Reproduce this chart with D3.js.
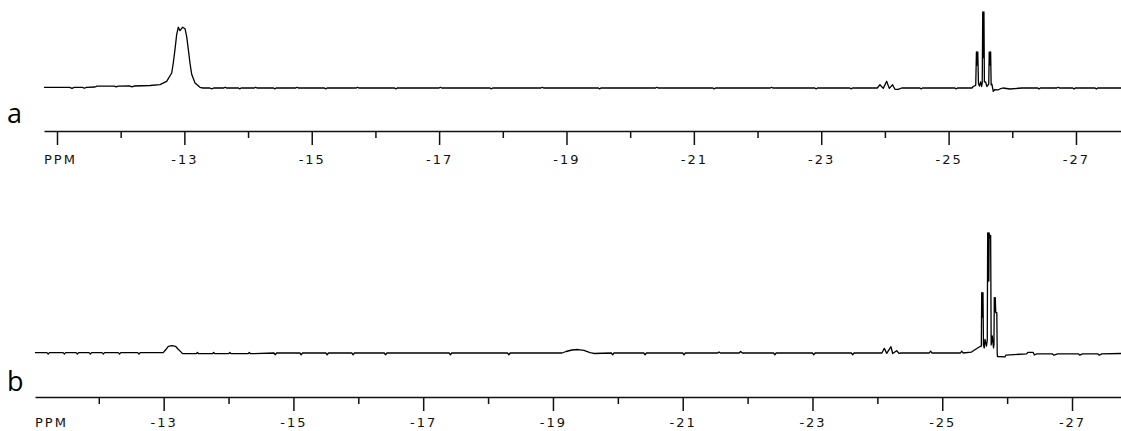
<!DOCTYPE html>
<html>
<head>
<meta charset="utf-8">
<script src="https://cdn.jsdelivr.net/npm/d3@7"></script>
<style>
  body { margin: 0; background: #fff; }
  .spectrum { fill: none; stroke: #000; stroke-width: 1.3; stroke-linejoin: round; }
  .axis text { font-family: 'DejaVu Sans', sans-serif; font-size: 13px; fill: #111; letter-spacing: 2px; }
  .panel-letter { font-family: 'Open Sans', sans-serif; font-size: 27px; fill: #000; }
</style>
</head>
<body>
<div id="chart"></div>
<script>
// spectrum a: [ppm, relative intensity]
const spectrumA = [
  [-10.796, 0.7], [-11.20, 0.9], [-11.235, -0.5], [-11.27, 0.9],
  [-11.40, 0.9], [-11.43, -0.3], [-11.46, 0.9], [-11.597, 1.3], [-11.628, 2.4],
  [-11.90, 2.4], [-11.93, 1.4], [-11.96, 2.4], [-12.146, 2.6], [-12.178, 1.6], [-12.209, 2.6],
  [-12.46, 3.3], [-12.617, 4.5], [-12.722, 8.8], [-12.801, 19.7], [-12.826, 32.9],
  [-12.853, 50.9], [-12.879, 70.3], [-12.905, 80], [-12.931, 75.5], [-12.974, 80],
  [-13.010, 78], [-13.036, 68], [-13.062, 50.9], [-13.088, 32.9], [-13.115, 18],
  [-13.167, 6.6], [-13.245, 0.9], [-13.292, 0],
  [-13.40, 0], [-13.43, -1.2], [-13.46, 0], [-13.62, 0], [-13.64, 1.0], [-13.66, 0],
  [-13.85, 0], [-13.87, -1.2], [-13.89, 0], [-14.10, 0], [-14.12, 1.0], [-14.14, 0],
  [-14.40, 0], [-14.42, -1.2], [-14.44, 0], [-14.75, 0], [-14.77, 1.0], [-14.79, 0],
  [-15.20, 0], [-15.22, -1.2], [-15.24, 0], [-15.70, 0], [-15.72, 1.0], [-15.74, 0],
  [-16.30, 0], [-16.32, -1.2], [-16.34, 0], [-17.00, 0], [-17.02, 1.0], [-17.04, 0],
  [-17.80, 0], [-17.82, -1.2], [-17.84, 0], [-18.60, 0], [-18.62, 1.0], [-18.64, 0],
  [-19.50, 0], [-19.52, -1.2], [-19.54, 0], [-20.40, 0], [-20.42, 1.0], [-20.44, 0],
  [-21.30, 0], [-21.32, -1.2], [-21.34, 0], [-22.20, 0], [-22.22, 1.0], [-22.24, 0],
  [-22.90, 0], [-22.92, -1.2], [-22.94, 0], [-23.45, 0], [-23.47, -1.2], [-23.49, 0],
  [-23.88, 0], [-23.922, 4.3], [-23.974, -0.5], [-24.027, 8.8], [-24.068, -0.5],
  [-24.121, 4.3], [-24.157, -1.7], [-24.209, -1.7], [-24.263, 0],
  [-24.55, 0], [-24.57, -1.2], [-24.59, 0], [-25.10, 0], [-25.12, -1.2], [-25.14, 0],
  [-25.366, 0], [-25.387, 2], [-25.426, 3.5], [-25.437, 47.4], [-25.447, 30],
  [-25.458, 47.4], [-25.469, 6], [-25.484, 2.6], [-25.503, 7.9], [-25.517, 2],
  [-25.528, 6], [-25.536, 100], [-25.545, 40], [-25.555, 100], [-25.562, 8],
  [-25.581, 7.9], [-25.602, 2], [-25.630, 5], [-25.638, 47.4], [-25.649, 30],
  [-25.660, 47.4], [-25.668, 4], [-25.680, 5],
  [-25.701, -4.3], [-25.727, -2], [-25.774, -2.6], [-25.806, -1.3], [-25.853, 0],
  [-25.963, -1.3], [-26.15, 0], [-26.40, 0], [-26.42, -1.3], [-26.44, 0],
  [-26.70, 0], [-26.72, 1.0], [-26.74, 0], [-26.95, 0], [-26.97, -1.3], [-26.99, 0],
  [-27.30, 0], [-27.32, -1.3], [-27.34, 0], [-27.707, 0]
];

// spectrum b: [ppm, relative intensity]
const spectrumB = [
  [-11.017, 0.3], [-11.20, 0.3], [-11.22, -0.8], [-11.24, 0.3],
  [-11.45, 0.3], [-11.47, -0.8], [-11.49, 0.3], [-11.65, 0.3], [-11.67, -0.8], [-11.69, 0.3],
  [-11.85, 0.3], [-11.87, -0.8], [-11.89, 0.3], [-12.05, 0.3], [-12.07, -0.8], [-12.09, 0.3],
  [-12.30, 0.3], [-12.32, -0.8], [-12.34, 0.3], [-12.60, 0.3], [-12.62, -0.8], [-12.64, 0.3],
  [-12.994, 0.3], [-13.035, 2.9], [-13.071, 5.6], [-13.128, 6.1], [-13.182, 5.6],
  [-13.220, 3.3], [-13.277, 0.3], [-13.297, -0.6],
  [-13.50, -0.6], [-13.52, 0.4], [-13.54, -0.6], [-13.75, -0.6], [-13.77, 0.4], [-13.79, -0.6],
  [-14.00, -0.6], [-14.02, 0.4], [-14.04, -0.6], [-14.30, -0.6], [-14.32, 0.4], [-14.34, -0.6],
  [-14.70, 0], [-14.72, -1.5], [-14.74, 0], [-15.10, 0], [-15.12, -1.5], [-15.14, 0],
  [-15.50, 0], [-15.52, -1.5], [-15.54, 0], [-15.90, 0], [-15.92, -1.5], [-15.94, 0],
  [-16.40, 0], [-16.42, -1.5], [-16.44, 0], [-17.40, 0], [-17.42, -1.5], [-17.44, 0],
  [-18.30, 0], [-18.32, -1.5], [-18.34, 0],
  [-19.139, 0], [-19.201, 1.25], [-19.293, 2.5], [-19.386, 2.9], [-19.478, 2.1],
  [-19.571, 0.4], [-19.633, -0.4],
  [-19.90, 0], [-19.92, -1.5], [-19.94, 0], [-20.40, 0], [-20.42, -1.5], [-20.44, 0],
  [-21.00, 0], [-21.02, -1.5], [-21.04, 0], [-21.54, 0], [-21.559, 0.8], [-21.58, 0],
  [-21.87, 0], [-21.893, 1.3], [-21.92, 0], [-22.40, 0], [-22.42, -1.5], [-22.44, 0],
  [-23.00, 0], [-23.02, -1.5], [-23.04, 0], [-23.60, 0], [-23.62, -1.5], [-23.64, 0],
  [-24.07, 0], [-24.107, 3.9], [-24.144, -0.3], [-24.210, 5.25], [-24.236, -0.4],
  [-24.298, 1.9], [-24.333, -0.3], [-24.36, 0],
  [-24.80, 0], [-24.82, 1.6], [-24.84, 0], [-25.28, 0], [-25.30, 1.6], [-25.32, 0],
  [-25.45, 0.8], [-25.551, 4.4], [-25.582, 5.4], [-25.602, 5.8], [-25.608, 50.3],
  [-25.618, 30], [-25.628, 50.3], [-25.635, 6.7], [-25.648, 4.2], [-25.659, 11.4],
  [-25.682, 5.8], [-25.694, 10.8], [-25.700, 100], [-25.706, 60], [-25.712, 100],
  [-25.718, 60], [-25.723, 100], [-25.735, 96], [-25.746, 98], [-25.754, 6.7],
  [-25.771, 14.2], [-25.790, 4.2], [-25.797, 6.7], [-25.802, 46.1], [-25.810, 35],
  [-25.817, 46.1], [-25.825, 33.6], [-25.841, 33.6], [-25.847, 0], [-25.851, -2.9],
  [-25.967, -3.3], [-25.982, -1.7], [-26.30, -0.8], [-26.32, 0.6], [-26.40, 0.6],
  [-26.42, -1.6], [-26.45, -0.8], [-26.70, -0.8], [-26.72, -1.8], [-26.78, -0.8],
  [-27.10, -0.8], [-27.12, -1.8], [-27.16, -0.8], [-27.40, -0.8], [-27.42, -1.8],
  [-27.46, -0.8], [-27.755, -0.4]
];

const majorTicks = [-11, -13, -15, -17, -19, -21, -23, -25, -27];
const minorTicks = [-12, -14, -16, -18, -20, -22, -24, -26];
const unitLabel = 'PPM';

const width = 1121, height = 431;

const panels = [
  { letter: 'a', data: spectrumA, domain: [-10.796, -27.707], left: 44,
    baseY: 88, topY: 12, axisY: 131, labelY: 24, letterX: 7, letterY: 123 },
  { letter: 'b', data: spectrumB, domain: [-11.017, -27.755], left: 35,
    baseY: 353, topY: 233, axisY: 397, labelY: 21, letterX: 7, letterY: 391 }
];

const svg = d3.select('#chart').append('svg')
    .attr('width', width)
    .attr('height', height);

svg.append('rect')
    .attr('width', width)
    .attr('height', height)
    .attr('fill', '#fff');

panels.forEach(p => drawPanel(p));

function drawPanel(p) {
  const x = d3.scaleLinear().domain(p.domain).range([p.left, width]);
  const y = d3.scaleLinear().domain([0, 100]).range([p.baseY, p.topY]);
  const inside = t => t <= p.domain[0] && t >= p.domain[1];

  const g = svg.append('g').attr('class', 'panel');

  const line = d3.line()
      .x(d => x(d[0]))
      .y(d => y(d[1]));

  g.append('path')
      .datum(p.data)
      .attr('class', 'spectrum')
      .attr('d', line);

  const major = g.append('g')
      .attr('class', 'axis')
      .attr('transform', `translate(0,${p.axisY})`)
      .call(d3.axisBottom(x)
        .tickValues(majorTicks.filter(inside))
        .tickSize(14)
        .tickSizeOuter(0)
        .tickPadding(p.labelY - 14)
        .tickFormat(d => d === majorTicks[0] ? '' : String(d)));

  major.select('.domain').attr('stroke', '#111').attr('stroke-width', 1.5);
  major.selectAll('.tick line').attr('stroke', '#111').attr('stroke-width', 1.5);

  const minor = g.append('g')
      .attr('class', 'axis')
      .attr('transform', `translate(0,${p.axisY})`)
      .call(d3.axisBottom(x)
        .tickValues(minorTicks.filter(inside))
        .tickSize(7)
        .tickSizeOuter(0)
        .tickFormat(''));

  minor.select('.domain').remove();
  minor.selectAll('.tick line').attr('stroke', '#111').attr('stroke-width', 1.5);

  major.append('text')
      .attr('x', p.left)
      .attr('y', p.labelY)
      .attr('dy', '0.71em')
      .attr('text-anchor', 'start')
      .attr('fill', '#111')
      .text(unitLabel);

  g.append('text')
      .attr('class', 'panel-letter')
      .attr('x', p.letterX)
      .attr('y', p.letterY)
      .text(p.letter);
}
</script>
</body>
</html>
